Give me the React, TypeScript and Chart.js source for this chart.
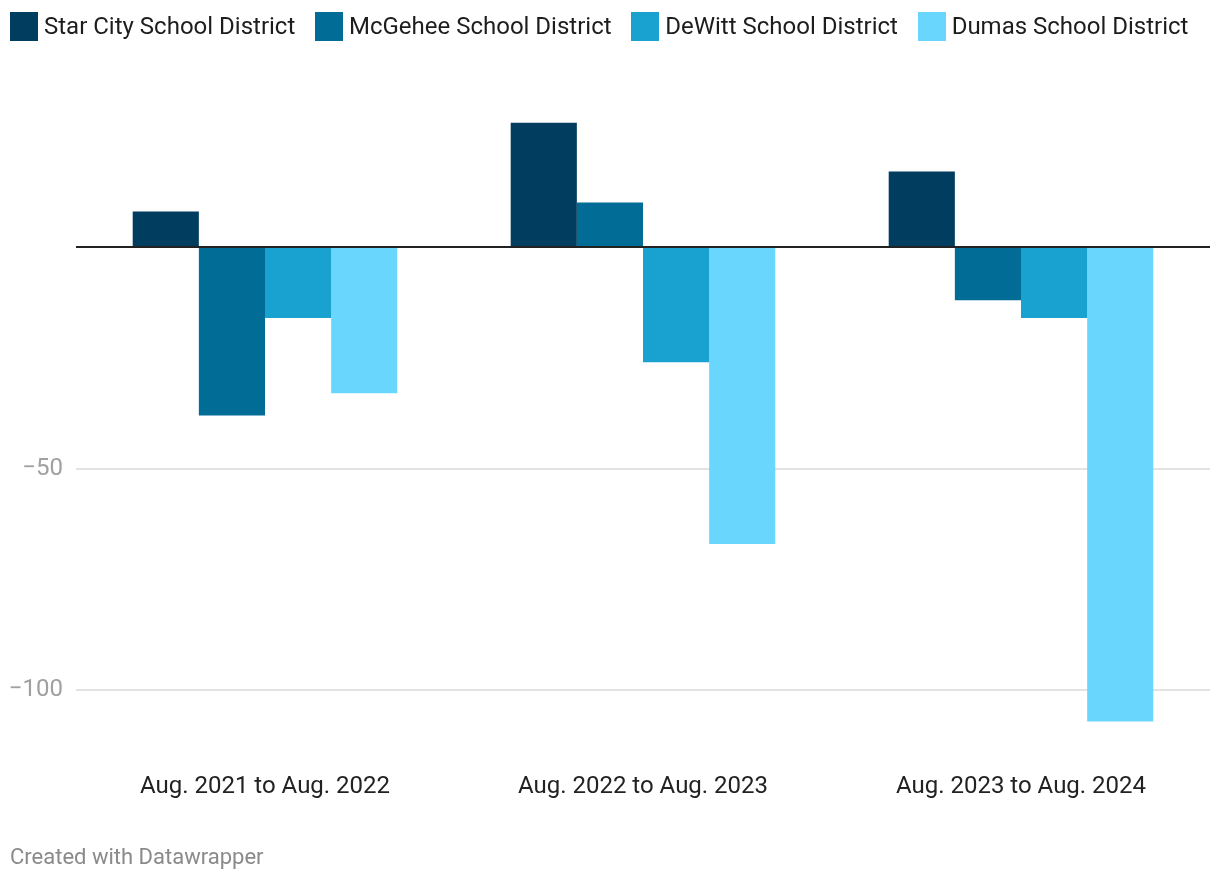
import React, { useEffect, useRef } from "react";
import { Chart, registerables } from "chart.js";

Chart.register(...registerables);

const categories = ["Aug. 2021 to Aug. 2022", "Aug. 2022 to Aug. 2023", "Aug. 2023 to Aug. 2024"];
const seriesNames = ["Star City School District", "McGehee School District", "DeWitt School District", "Dumas School District"];
const starCity = [8, 28, 17];
const mcGehee = [-38, 10, -12];
const deWitt = [-16, -26, -16];
const dumas = [-33, -67, -107];
const colors = ["#013d5f", "#016d97", "#19a1cf", "#69d6fd"];
const yTicks = [-100, -50, 0];

const FONT = "Roboto, 'Noto Sans', sans-serif";

const zeroLinePlugin = {
  id: "zeroLine",
  afterDatasetsDraw(chart: any) {
    const { ctx, chartArea, scales } = chart;
    const y = Math.round(scales.y.getPixelForValue(0));
    ctx.save();
    ctx.strokeStyle = "#222222";
    ctx.lineWidth = 2;
    ctx.beginPath();
    ctx.moveTo(chartArea.left, y);
    ctx.lineTo(chartArea.right, y);
    ctx.stroke();
    ctx.restore();
  },
};

export default function App() {
  const ref = useRef<HTMLCanvasElement | null>(null);

  useEffect(() => {
    document.body.style.margin = "0";
    if (!ref.current) return;
    const seriesData = [starCity, mcGehee, deWitt, dumas];
    const chart = new Chart(ref.current, {
      type: "bar",
      data: {
        labels: categories,
        datasets: seriesNames.map((name, i) => ({
          label: name,
          data: seriesData[i],
          backgroundColor: colors[i],
          borderWidth: 0,
          categoryPercentage: 0.7,
          barPercentage: 1.0,
        })),
      },
      options: {
        animation: false,
        responsive: false,
        maintainAspectRatio: false,
        layout: { padding: { top: 69.6, right: 10, left: 0, bottom: 0 } },
        plugins: {
          legend: { display: false },
          tooltip: { enabled: false },
        },
        scales: {
          x: {
            grid: { display: false, drawTicks: false },
            border: { display: false },
            ticks: {
              color: "#222222",
              font: { family: FONT, size: 24 },
              padding: 38,
              maxRotation: 0,
            },
            afterFit(scale: any) {
              scale.height = 147.3;
            },
          },
          y: {
            min: -110,
            max: 40,
            grid: {
              drawTicks: false,
              color: (c: any) => (c.tick && c.tick.value === 0 ? "rgba(0,0,0,0)" : "#e3e3e3"),
              lineWidth: 2,
            },
            border: { display: false },
            afterBuildTicks(scale: any) {
              scale.ticks = yTicks.map((v) => ({ value: v }));
            },
            ticks: {
              color: "#a0a0a0",
              font: { family: FONT, size: 24 },
              padding: 13,
              callback: (v: any) => (Number(v) === 0 ? "" : (Number(v) < 0 ? "\u2212" : "") + Math.abs(Number(v))),
            },
            afterFit(scale: any) {
              scale.width = 76;
            },
          },
        },
      },
      plugins: [zeroLinePlugin],
    });
    return () => chart.destroy();
  }, []);

  return (
    <div style={{ position: "relative", width: 1220, height: 882, fontFamily: FONT, background: "#fff" }}>
      <canvas ref={ref} width={1220} height={882} style={{ position: "absolute", left: 0, top: 0 }} />
      <div style={{ position: "absolute", left: 10, top: 12, display: "flex", alignItems: "center" }}>
        {seriesNames.map((name, i) => (
          <div key={name} style={{ display: "flex", alignItems: "center", marginRight: 19.7 }}>
            <span style={{ display: "inline-block", width: 28, height: 29, background: colors[i], marginRight: 6 }} />
            <span style={{ fontSize: 24, color: "#1d1d1d", lineHeight: "29px" }}>{name}</span>
          </div>
        ))}
      </div>
      <div style={{ position: "absolute", left: 10, top: 844, fontSize: 22, color: "#8a8a8a" }}>Created with Datawrapper</div>
    </div>
  );
}
